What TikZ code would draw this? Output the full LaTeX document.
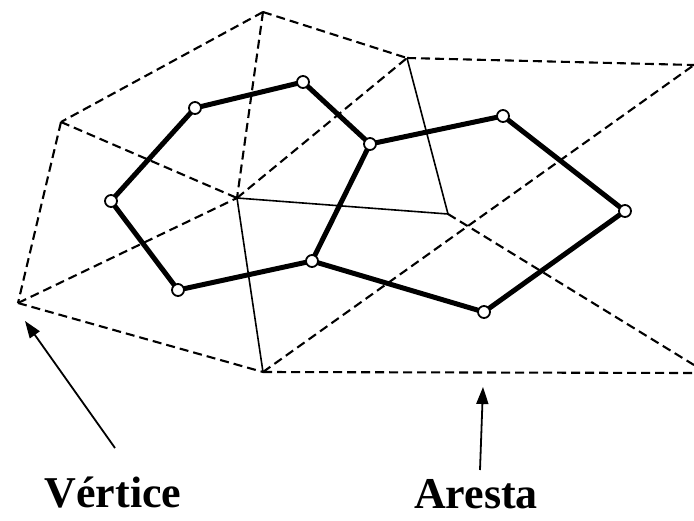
\documentclass[tikz,border=0pt]{standalone}
\usepackage{fontspec}
\setmainfont{Liberation Serif}
\usetikzlibrary{arrows.meta}
\begin{document}
\begin{tikzpicture}[x=1pt,y=-1pt,
  tri/.style={line width=2.1pt,dash pattern=on 9pt off 5pt},
  thinedge/.style={line width=1.6pt},
  vor/.style={line width=5pt,line join=round},
  vnode/.style={circle,draw,fill=white,line width=1.8pt,minimum size=12pt,inner sep=0pt},
  pt/.style={coordinate},
  lbl/.style={font=\fontsize{44}{48}\selectfont\bfseries,inner sep=0pt,anchor=base},
  pointer/.style={line width=1.8pt,-{Triangle[length=17pt,width=12pt]}}]
\useasboundingbox (0,0) rectangle (694,520);
% Delaunay vertices
\node[pt] (A) at (263,12) {};
\node[pt] (B) at (61,122) {};
\node[pt] (C) at (18,303) {};
\node[pt] (D) at (237,198) {};
\node[pt] (E) at (407,58) {};
\node[pt] (F) at (694,65) {};
\node[pt] (G) at (448,214) {};
\node[pt] (H) at (263,372) {};
\node[pt] (I) at (694,365) {};
\node[pt] (J) at (694,373) {};
% dashed triangulation
\draw[tri] (A) -- (B);
\draw[tri] (A) -- (E);
\draw[tri] (A) -- (D);
\draw[tri] (B) -- (C);
\draw[tri] (B) -- (D);
\draw[tri] (C) -- (D);
\draw[tri] (C) -- (H);
\draw[tri] (D) -- (E);
\draw[tri] (E) -- (F);
\draw[tri] (H) -- (F);
\draw[tri] (G) -- (I);
\draw[tri] (H) -- (J);
% thin solid edges
\draw[thinedge] (D) -- (G);
\draw[thinedge] (E) -- (G);
\draw[thinedge] (D) -- (H);
% Voronoi vertices
\coordinate (v1) at (195,108);
\coordinate (v2) at (303,82);
\coordinate (v3) at (111,201);
\coordinate (v4) at (178,290);
\coordinate (v5) at (312,261);
\coordinate (v6) at (370,144);
\coordinate (v7) at (503,116);
\coordinate (v8) at (625,211);
\coordinate (v9) at (484,312);
\draw[vor] (v1) -- (v2) -- (v6) -- (v7) -- (v8) -- (v9) -- (v5) -- (v4) -- (v3) -- cycle;
\draw[vor] (v5) -- (v6);
\foreach \v in {v1,v2,v3,v4,v5,v6,v7,v8,v9}
  \node[vnode] (n\v) at (\v) {};
% labels and pointers
\node[lbl] (vert) at (113,507) {Vértice};
\node[lbl] (ares) at (476,508) {Aresta};
\coordinate (vs) at (115,448);
\coordinate (vt) at (25,321);
\coordinate (as) at (480,470);
\coordinate (at) at (483,387);
\draw[pointer] (vs) -- (vt);
\draw[pointer] (as) -- (at);
\end{tikzpicture}
\end{document}
